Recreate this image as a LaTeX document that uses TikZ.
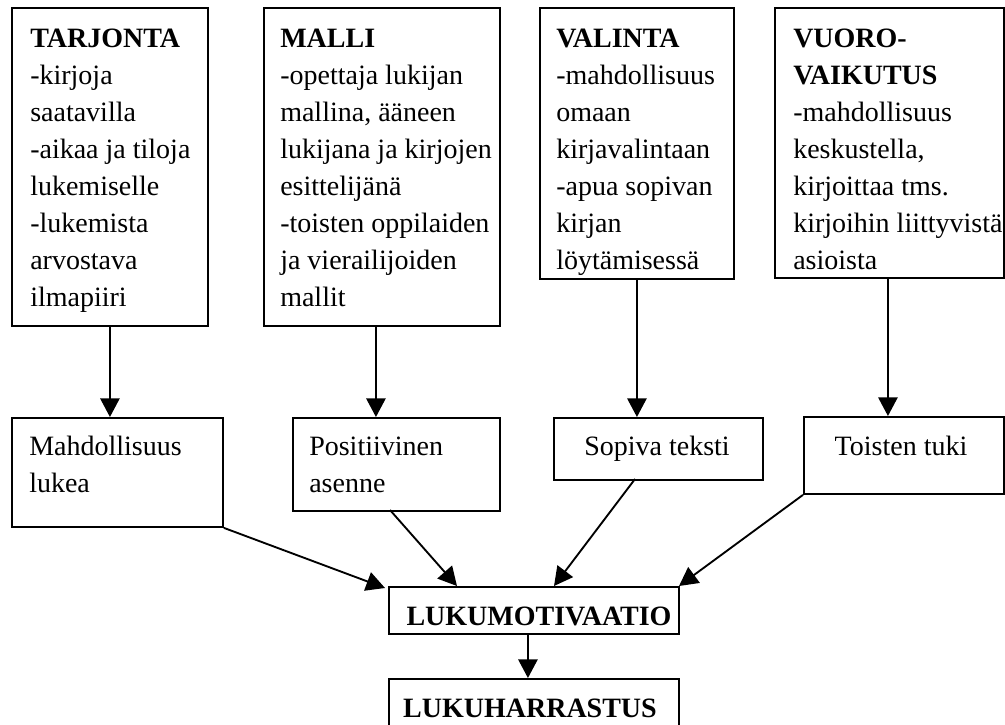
\documentclass[tikz,border=0pt]{standalone}
\usepackage{fontspec}
\setmainfont{Liberation Serif}
\usetikzlibrary{arrows.meta}
\begin{document}
\begin{tikzpicture}[x=0.75pt,y=-0.75pt,
  box/.style={draw, line width=1.4pt, inner sep=0pt, anchor=north west},
  txt/.style={inner sep=0pt, anchor=north west, align=left, font=\fontsize{21}{27.75}\selectfont},
  lbl/.style={inner sep=0pt, anchor=base, font=\fontsize{21}{27.75}\selectfont},
  arr/.style={line width=1.4pt, -{Triangle[length=14pt,width=14.5pt]}}
]
\clip (0,0) rectangle (1005,724);
% top row boxes
\node[box, minimum width=147pt, minimum height=238.5pt] (b1) at (11,7) {};
\node[box, minimum width=177pt, minimum height=238.5pt] (b2) at (263,7) {};
\node[box, minimum width=145.5pt, minimum height=203.25pt] (b3) at (539,7) {};
\node[box, minimum width=171.75pt, minimum height=202.5pt] (b4) at (774,7) {};
\node[txt] (b1t) at (30,27) {\rule{0pt}{15pt}\textbf{TARJONTA}\\-kirjoja\\saatavilla\\-aikaa ja tiloja\\lukemiselle\\-lukemista\\arvostava\\ilmapiiri};
\node[txt] (b2t) at (280,27) {\rule{0pt}{15pt}\textbf{MALLI}\\-opettaja lukijan\\mallina, ääneen\\lukijana ja kirjojen\\esittelijänä\\-toisten oppilaiden\\ja vierailijoiden\\mallit};
\node[txt] (b3t) at (556,27) {\rule{0pt}{15pt}\textbf{VALINTA}\\-mahdollisuus\\omaan\\kirjavalintaan\\-apua sopivan\\kirjan\\löytämisessä};
\node[txt] (b4t) at (793,27) {\rule{0pt}{15pt}\textbf{VUORO-}\\\textbf{VAIKUTUS}\\-mahdollisuus\\keskustella,\\kirjoittaa tms.\\kirjoihin liittyvistä\\asioista};
% second row
\node[box, minimum width=158.25pt, minimum height=81.75pt] (m1) at (11,417) {};
\node[box, minimum width=155.25pt, minimum height=69.75pt] (p2) at (292,417) {};
\node[box, minimum width=156.75pt, minimum height=46.5pt] (s3) at (553,417) {};
\node[box, minimum width=150pt, minimum height=57.75pt] (t4) at (803,416) {};
\node[txt] (m1t) at (29,435) {\rule{0pt}{15pt}Mahdollisuus\\lukea};
\node[txt] (p2t) at (309,435) {\rule{0pt}{15pt}Positiivinen\\asenne};
\node[lbl] (s3t) at (657,455) {Sopiva teksti};
\node[lbl] (t4t) at (901,455) {Toisten tuki};
% bottom
\node[box, minimum width=217.5pt, minimum height=35.25pt] (lm) at (388,586) {};
\node[box, minimum width=217.5pt, minimum height=46.5pt] (lh) at (388,678) {};
\node[lbl] (lmt) at (539,625) {\textbf{LUKUMOTIVAATIO}};
\node[lbl] (lht) at (530,717) {\textbf{LUKUHARRASTUS}};
% connectors
\draw[arr] (b1.south) -- (b1.south |- m1.north);
\draw[arr] ([xshift=-4.5pt]b2.south) -- ([xshift=-4.5pt]b2.south |- p2.north);
\draw[arr] (b3.south) -- (b3.south |- s3.north);
\draw[arr] ([xshift=-1.125pt]b4.south) -- ([xshift=-1.125pt]b4.south |- t4.north);
\coordinate (s2) at (390,510);
\coordinate (s3s) at (635,479);
\coordinate (e1) at (385,588);
\coordinate (e2) at (457,586);
\coordinate (e3) at (554,586);
\coordinate (e4) at (679,586);
\draw[arr] (m1.south east) -- (e1);
\draw[arr] (s2) -- (e2);
\draw[arr] (s3s) -- (e3);
\draw[arr] (t4.south west) -- (e4);
\draw[arr] ([xshift=-4.5pt]lm.south) -- ([xshift=-4.5pt]lm.south |- lh.north);
\end{tikzpicture}
\end{document}
